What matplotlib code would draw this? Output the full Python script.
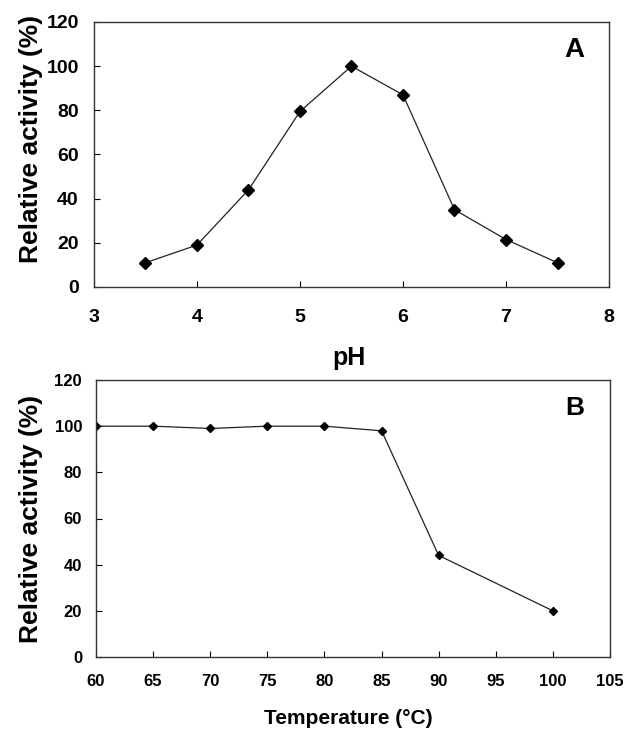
import matplotlib
matplotlib.use("Agg")
import matplotlib.pyplot as plt

ph = [3.5, 4.0, 4.5, 5.0, 5.5, 6.0, 6.5, 7.0, 7.5]
ph_activity = [11, 19, 44, 79.5, 100, 87, 35, 21.5, 11]

temp = [60, 65, 70, 75, 80, 85, 90, 100]
temp_activity = [100, 100, 99, 100, 100, 98, 44, 20]

plt.rcParams['font.family'] = ['Liberation Sans', 'DejaVu Sans']
plt.rcParams['font.weight'] = 'bold'

fig = plt.figure(figsize=(6.27, 7.31), dpi=100)
W, H = 627.0, 731.0

# panel A (pH)
ax1 = fig.add_axes([94 / W, 1 - 287 / H, 515 / W, 265 / H])
ax1.plot(ph, ph_activity, color='#222222', lw=0.9, marker='D', ms=6,
         mfc='black', mec='black')
ax1.set_xlim(3, 8)
ax1.set_ylim(0, 120)
ax1.set_xticks([3, 4, 5, 6, 7, 8])
ax1.set_yticks(range(0, 121, 20))
ax1.tick_params(axis='both', direction='in', length=4, width=0.8, labelsize=14)
ax1.tick_params(axis='x', pad=16)
ax1.tick_params(axis='y', pad=11)
ax1.set_xlabel('pH', fontsize=18, fontweight='bold')
ax1.xaxis.set_label_coords(0.495, -0.222)
ax1.set_ylabel('Relative activity (%)', fontsize=19, fontweight='bold')
ax1.yaxis.set_label_coords(-0.099, 0.56)
ax1.text(0.932, 0.894, 'A', transform=ax1.transAxes, fontsize=20,
         fontweight='bold', ha='center', va='center')

# panel B (temperature)
ax2 = fig.add_axes([96 / W, 1 - 657 / H, 514 / W, 277 / H])
ax2.plot(temp, temp_activity, color='#222222', lw=0.9, marker='D', ms=4.5,
         mfc='black', mec='black')
ax2.set_xlim(60, 105)
ax2.set_ylim(0, 120)
ax2.set_xticks(range(60, 106, 5))
ax2.set_yticks(range(0, 121, 20))
ax2.tick_params(axis='both', direction='in', length=4, width=0.8, labelsize=12)
ax2.tick_params(axis='x', pad=12)
ax2.tick_params(axis='y', pad=10)
ax2.set_xlabel('Temperature (°C)', fontsize=15, fontweight='bold')
ax2.xaxis.set_label_coords(0.49, -0.188)
ax2.set_ylabel('Relative activity (%)', fontsize=19, fontweight='bold')
ax2.yaxis.set_label_coords(-0.103, 0.5)
ax2.text(0.932, 0.9, 'B', transform=ax2.transAxes, fontsize=19,
         fontweight='bold', ha='center', va='center')

for ax in (ax1, ax2):
    for s in ax.spines.values():
        s.set_color('#333333')
        s.set_linewidth(1)

fig.savefig('out.png', dpi=100)
